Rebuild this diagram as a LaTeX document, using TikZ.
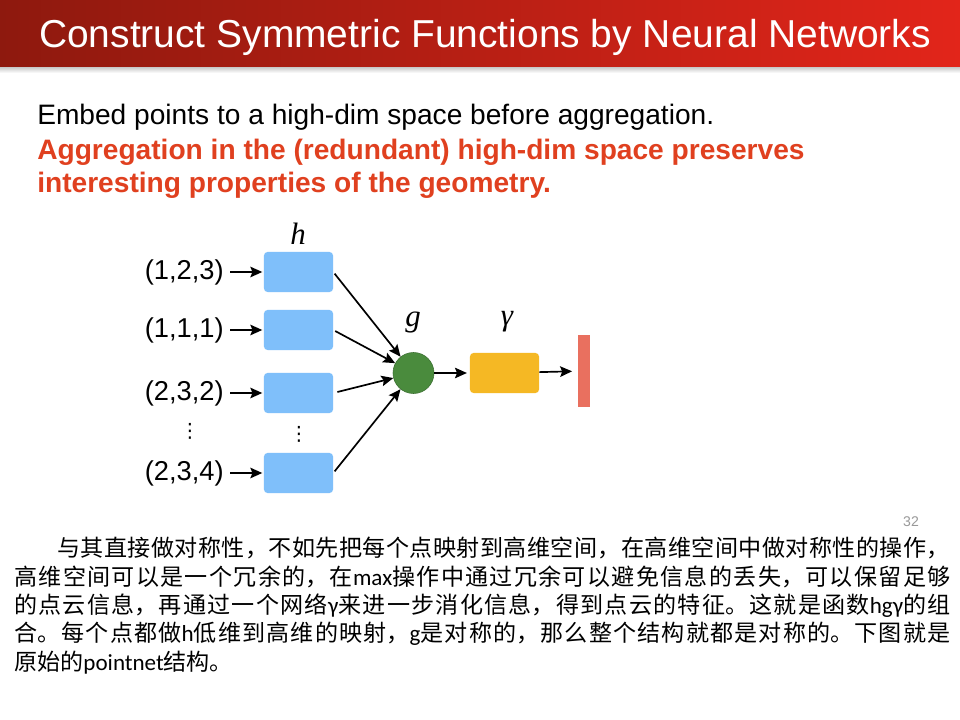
\documentclass[tikz,border=0pt]{standalone}
\usepackage{fontspec}
\setmainfont{Liberation Sans}
\newfontfamily\serifrm{Liberation Serif}
\newfontfamily\cjk{Noto Sans CJK SC}
\newfontfamily\carl{Carlito}
\newfontfamily\symb{DejaVu Sans}
\usetikzlibrary{arrows.meta,positioning}
\definecolor{barleft}{HTML}{8E190E}
\definecolor{barright}{HTML}{E2251A}
\definecolor{hiliteRed}{HTML}{E0401F}
\definecolor{hBlue}{HTML}{7FBFFA}
\definecolor{gGreen}{HTML}{4A8B3D}
\definecolor{gammaYellow}{HTML}{F5B824}
\definecolor{outRed}{HTML}{E9705F}
\newcommand{\latn}[1]{{\carl #1}}
\XeTeXlinebreaklocale "zh"
\XeTeXlinebreakskip=0pt plus 3pt

\begin{document}
\begin{tikzpicture}[x=0.025cm,y=-0.025cm,>={Stealth[length=8.5pt,width=7.5pt,inset=1.5pt]},
  every node/.style={font=\fontsize{19.4pt}{22pt}\selectfont},
  hbox/.style={rectangle,rounded corners=2.5pt,fill=hBlue,minimum width=1.725cm,minimum height=1cm,inner sep=0pt},
  pt/.style={anchor=east,inner sep=0pt},
  fname/.style={font=\fontsize{22pt}{24pt}\serifrm\itshape},
  vdot/.style={font=\fontsize{14pt}{16pt}\symb},
  link/.style={->,line width=1.2pt},
  cjkline/.style={anchor=west,inner sep=0pt,align=justify,font=\fontsize{16.4pt}{20pt}\cjk,
    execute at begin node={\parfillskip=0pt\relax}}]
\fill[white] (0,0) rectangle (960,720);
\useasboundingbox (0,0) rectangle (960,720);
\shade[left color=barleft,right color=barright] (0,0) rectangle (960,68);
\shade[top color=black!18,bottom color=white] (0,68) rectangle (960,73);
\node[text=white,font=\fontsize{27.7pt}{30pt}\selectfont] (title) at (485,37) {Construct Symmetric Functions by Neural Networks};
\node[anchor=base west,inner sep=0pt,font=\fontsize{20pt}{22pt}\selectfont] (t1) at (37,125) {Embed points to a high-dim space before aggregation.};
\node[anchor=base west,inner sep=0pt,text=hiliteRed,font=\fontsize{20pt}{22pt}\bfseries] (t2) at (37,160) {Aggregation in the (redundant) high-dim space preserves};
\node[anchor=base west,inner sep=0pt,text=hiliteRed,font=\fontsize{20pt}{22pt}\bfseries] (t3) at (37,193) {interesting properties of the geometry.};

\node[hbox] (h1) at (298.5,272) {};
\node[hbox] (h2) at (298.5,330) {};
\node[hbox] (h3) at (298.5,393) {};
\node[hbox] (h4) at (298.5,473) {};
\node[pt] (p1) at (224,272) {(1,2,3)};
\node[pt] (p2) at (224,330) {(1,1,1)};
\node[pt] (p3) at (224,393) {(2,3,2)};
\node[pt] (p4) at (224,473) {(2,3,4)};
\node[vdot] (pdots) at (190,431) {⋮};
\node[vdot] (hdots) at (299,434) {⋮};
\node[fname] (hlab) at (298,234) {h};
\node[circle,fill=gGreen,draw=gGreen!80!black,minimum size=1.025cm,inner sep=0pt] (g) at (413.5,373) {};
\node[fname] (glab) at (413,323) {g};
\node[rectangle,rounded corners=2.5pt,fill=gammaYellow,minimum width=1.725cm,minimum height=1cm,inner sep=0pt] (gam) at (504.5,373) {};
\node[fname] (gamlab) at (507,322) {γ};
\node[rectangle,fill=outRed,minimum width=0.3cm,minimum height=1.8cm,inner sep=0pt] (out) at (584,371) {};

\draw[link,shorten <=4.5pt,shorten >=1pt] (p1) -- (h1);
\draw[link,shorten <=4.5pt,shorten >=1pt] (p2) -- (h2);
\draw[link,shorten <=4.5pt,shorten >=1pt] (p3) -- (h3);
\draw[link,shorten <=4.5pt,shorten >=1pt] (p4) -- (h4);
\draw[link,shorten <=1.5pt] (h1.east) -- (g);
\draw[link,shorten <=1.5pt] (h2.east) -- (g);
\draw[link,shorten <=3pt] (h3.east) -- (g);
\draw[link,shorten <=1.5pt] (h4.east) -- (g);
\draw[link,shorten >=2pt] (g) -- (gam);
\draw[link,shorten >=4pt] (gam) -- (out);

\node[text=black!40,font=\fontsize{10pt}{12pt}\selectfont] (pnum) at (911,522) {32};
\node[cjkline,text width=22.3cm] (c1) at (57,548) {与其直接做对称性，不如先把每个点映射到高维空间，在高维空间中做对称性的操作，};
\node[cjkline,text width=23.4cm] (c2) at (14,577) {高维空间可以是一个冗余的，在\latn{max}操作中通过冗余可以避免信息的丢失，可以保留足够};
\node[cjkline,text width=23.4cm] (c3) at (14,606) {的点云信息，再通过一个网络\latn{γ}来进一步消化信息，得到点云的特征。这就是函数\latn{hgγ}的组};
\node[cjkline,text width=23.4cm] (c4) at (14,634) {合。每个点都做\latn{h}低维到高维的映射，\latn{g}是对称的，那么整个结构就都是对称的。下图就是};
\node[anchor=west,inner sep=0pt,font=\fontsize{16.4pt}{20pt}\cjk] (c5) at (14,663) {原始的\latn{pointnet}结构。};
\end{tikzpicture}
\end{document}
